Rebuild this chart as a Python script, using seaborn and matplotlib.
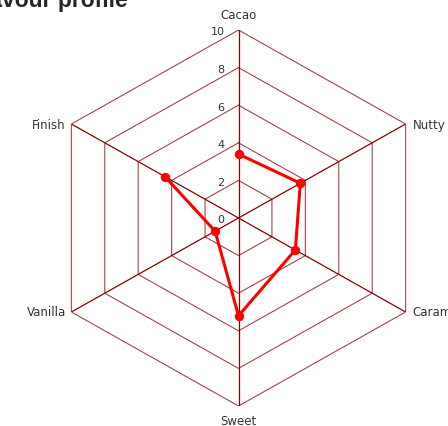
import numpy as np
import pandas as pd
import seaborn as sns
import matplotlib.pyplot as plt

categories = ['Cacao', 'Nutty', 'Caramel', 'Sweet', 'Vanilla', 'Finish']
scores = [3.4, 3.7, 3.4, 5.2, 1.4, 4.4]
ring_ticks = [0, 2, 4, 6, 8, 10]

sns.set_style('white')
plt.rcParams['font.family'] = ['DejaVu Sans']

n = len(categories)
theta = np.linspace(0, 2 * np.pi, n, endpoint=False)
closed_theta = np.append(theta, theta[0])

df = pd.DataFrame({'theta': closed_theta, 'score': scores + scores[:1]})

fig = plt.figure(figsize=(4.48, 4.27), dpi=100)
# slightly wider than tall, like the reference
ax = fig.add_axes([45.5 / 448, 20 / 427, 386 / 448, 376 / 427], projection='polar')
ax.set_aspect('auto')
ax.set_theta_offset(np.pi / 2)
ax.set_theta_direction(-1)
ax.set_ylim(0, 10)
ax.grid(False)
ax.spines['polar'].set_visible(False)
ax.set_xticks([])
ax.set_yticks([])

# hexagon rings
for r in ring_ticks[1:]:
    ax.plot(closed_theta, [r] * (n + 1), color='#a04848', lw=0.8, zorder=1)
# spokes
for t in theta:
    ax.plot([t, t], [0, 10], color='#8b0000', lw=0.9, zorder=1)

sns.lineplot(data=df, x='theta', y='score', sort=False, ax=ax, color='red',
             lw=2.2, marker='o', markersize=6, markeredgecolor='red', zorder=3)
ax.set_xlabel('')
ax.set_ylabel('')

for r in ring_ticks:
    ax.annotate(str(r), xy=(0, r), xytext=(-10, -1), textcoords='offset points',
                ha='right', va='center', fontsize=8, color='#333333')

offsets = [(0, 6.5, 'center', 'bottom'), (5, 0, 'left', 'center'), (5, 0, 'left', 'center'),
           (0, -6, 'center', 'top'), (-4, 0, 'right', 'center'), (-4, 0, 'right', 'center')]
for t, lab, (dx, dy, ha, va) in zip(theta, categories, offsets):
    ax.annotate(lab, xy=(t, 10), xytext=(dx, dy), textcoords='offset points',
                ha=ha, va=va, fontsize=8.5, color='#333333', annotation_clip=False)

fig.text(128 / 448, 1 - 7 / 427, 'Flavour profile', fontsize=16.5, fontweight='bold',
         family='Liberation Sans', ha='right', va='baseline')

fig.savefig('out.png', dpi=100)
